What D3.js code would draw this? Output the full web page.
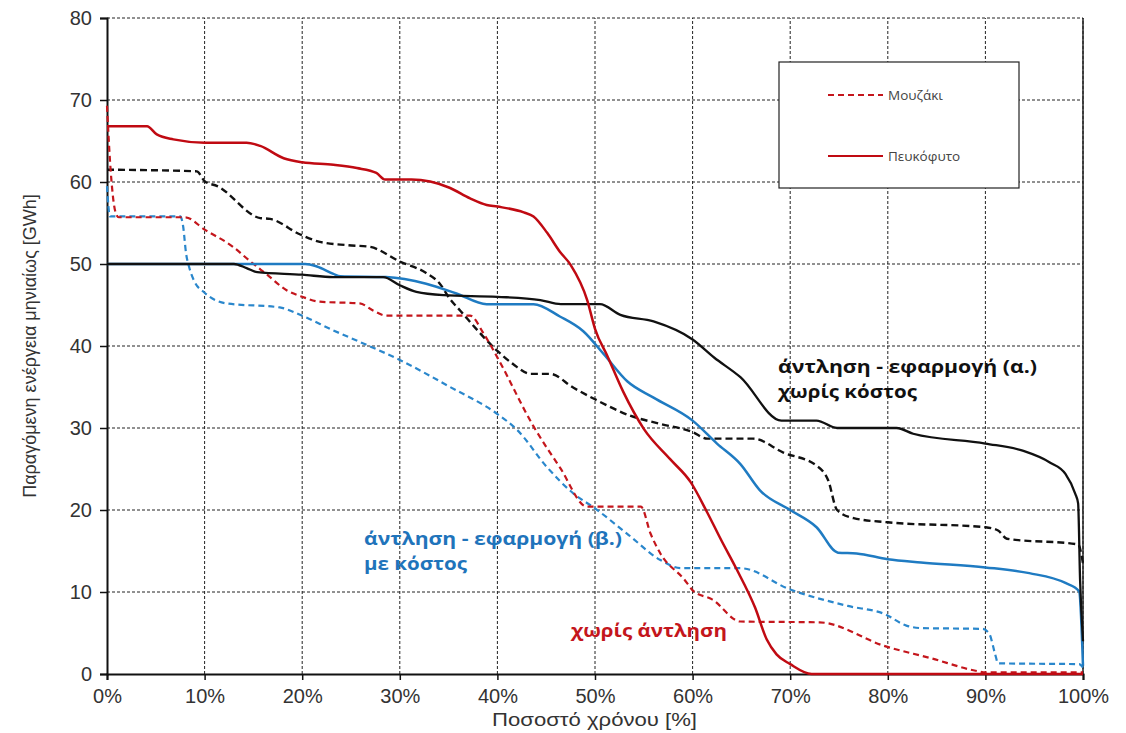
<!DOCTYPE html>
<html>
<head>
  <meta charset="utf-8">
  <title>Καμπύλες διάρκειας ενέργειας</title>
  <style>
    body { margin: 0; background: #fff; }
    text { font-family: "Liberation Sans", Arial, sans-serif; }
    .grid line { stroke: #222; stroke-width: 1; stroke-dasharray: 3,2; }
    .tick-label { font-size: 20px; fill: #333; }
    .axis-title { font-size: 18px; fill: #333; }
    .legend text { font-family: "Open Sans", sans-serif; font-size: 13.5px; fill: #444; }
    .note { font-family: "Open Sans", sans-serif; font-size: 18px; font-weight: bold; }
  </style>
</head>
<body>
  <script src="https://d3js.org/d3.v7.min.js"></script>
  <svg width="1126" height="733"></svg>
  <script>
    // tick labels
    var yTicks = [0, 10, 20, 30, 40, 50, 60, 70, 80];
    var xTicks = [0, 10, 20, 30, 40, 50, 60, 70, 80, 90, 100];

    // series: [percent of time, GWh]
    // no pumping, Pefkofyto (red solid)
    var redSolid = [[0,66.8],[4.1,66.8],[5.1,65.8],[6.8,65.2],[10,64.8],[14.3,64.8],[15.7,64.4],[18.1,62.9],[20,62.4],
      [23.2,62.1],[25.6,61.7],[27.6,61.1],[28.5,60.3],[31.2,60.3],[35.1,59.3],[37.2,58],[38.9,57.2],[40,57],[42.7,56.3],
      [43.7,55.8],[45.1,53.8],[46.4,51.5],[47.5,49.9],[49.2,45.6],[50,42.1],[51.3,38.7],[52.9,34.4],[55,29.9],[57.7,26.2],
      [59.8,23.4],[61.5,19.7],[62.9,16.4],[64.5,12.8],[66.4,8.1],[67.6,4.2],[68.6,2.4],[70,1.2],[72.2,0],[100,0]];
    // no pumping, Mouzaki (red dashed)
    var redDashed = [[0,69.3],[0.3,62.7],[0.9,56.2],[1.2,55.7],[7.5,55.7],[8,55.7],[10,54.2],[12.9,52.1],[14.7,50.3],
      [16.4,48.7],[18.4,46.8],[20,46],[21.8,45.4],[25.9,45.2],[27.3,44.3],[28.6,43.7],[37.2,43.7],[38.6,41.5],[40,38.6],
      [43.7,30.2],[46.4,25.2],[49.2,20.4],[54.7,20.4],[55.7,17.1],[56.7,14.7],[59.1,11.6],[60.1,10.1],[62,9.1],[64.9,6.4],
      [73,6.3],[79.7,3.4],[84.5,1.9],[89,0.4],[90,0.2],[100,0.2]];
    // pumping (a) without cost, Pefkofyto (black solid)
    var blackSolid = [[0,50],[13,50],[14.3,49.5],[15.4,49],[20,48.7],[23.2,48.4],[28.3,48.4],[30,47.4],[31.7,46.6],
      [34.5,46.2],[40,46],[44.4,45.6],[46.5,45.1],[50.5,45.1],[52.6,43.8],[56,43],[60,40.8],[62.2,38.6],[64.9,36.2],
      [69.1,30.9],[72.7,30.9],[74.8,30],[80.9,30],[82.6,29.3],[90,28.1],[93.9,27.2],[96.6,25.8],[98.2,24.4],[99.2,22],
      [99.5,20.8],[99.7,11.5],[100,4]];
    // pumping (a) without cost, Mouzaki (black dashed)
    var blackDashed = [[0,61.5],[9.2,61.3],[10,60.1],[11.3,59.5],[15.7,55.6],[16.7,55.5],[19.8,53.6],[21.8,52.7],
      [24.6,52.3],[26.9,52.1],[30,50.3],[32.7,48.9],[34.1,47.6],[35.1,45.8],[36.2,44.3],[40,39.4],[41.6,37.8],[43.4,36.6],
      [45.4,36.6],[47.8,34.9],[50,33.5],[53.6,31.5],[56.7,30.5],[60,29.5],[61.5,28.7],[66.2,28.7],[69.3,27],[72.7,25.4],
      [73.9,23.6],[74.8,20],[76.5,19],[80,18.5],[90,17.9],[91.3,17.5],[92.2,16.5],[99.5,15.8],[100,13.5]];
    // pumping (b) with cost, Pefkofyto (blue solid)
    var blueSolid = [[0,50],[20.3,50],[21.5,49.7],[23.2,48.8],[23.9,48.5],[28.6,48.4],[32.7,47.6],[35.8,46.4],[38.9,45.1],
      [43.7,45.1],[46.4,43.6],[48.8,41.8],[50.9,39],[53.3,35.7],[56,33.7],[60,30.9],[62.5,28.1],[64.9,25.6],[66.9,22.4],
      [70,20],[72.7,17.9],[74.9,14.8],[76.8,14.7],[80,14],[83.4,13.6],[90,13],[94.5,12.3],[98.2,11.1],[99.6,10.1],[100,1]];
    // pumping (b) with cost, Mouzaki (blue dashed)
    var blueDashed = [[0,59.5],[0.3,55.8],[7.5,55.8],[7.8,54.6],[8.1,51.3],[8.4,49.7],[8.9,48],[10,46.5],[12.2,45.2],
      [17.7,44.7],[20,43.7],[23.2,41.9],[25.9,40.5],[30,38.3],[35,35.1],[40,31.7],[42,29.8],[45.1,25.2],[47.8,22],
      [50,20.2],[53.3,17.1],[56.7,13.9],[58.8,12.9],[64.9,12.9],[70,10.3],[75.9,8.3],[79.7,7.3],[81.9,5.9],[83.4,5.6],
      [89.7,5.5],[90.4,4.9],[91,2.4],[91.3,1.3],[99.6,1.2],[100,0.8]];

    var svg = d3.select("svg");
    var margin = {top: 18, left: 107};
    var width = 976, height = 656;

    var x = d3.scaleLinear().domain([0, 100]).range([margin.left, margin.left + width]);
    var y = d3.scaleLinear().domain([0, 80]).range([margin.top + height, margin.top]);

    // grid
    var grid = svg.append("g").attr("class", "grid");
    grid.selectAll(".gx").data(xTicks.slice(1)).enter().append("line")
        .attr("x1", function(d) { return x(d); }).attr("x2", function(d) { return x(d); })
        .attr("y1", y(0)).attr("y2", y(80));
    grid.selectAll(".gy").data(yTicks.slice(1)).enter().append("line")
        .attr("x1", x(0)).attr("x2", x(100))
        .attr("y1", function(d) { return y(d); }).attr("y2", function(d) { return y(d); });

    // axes
    var yAxis = svg.append("g")
        .attr("transform", "translate(" + x(0) + ",0)")
        .call(d3.axisLeft(y).tickValues(yTicks).tickSize(7).tickPadding(8));
    var xAxis = svg.append("g")
        .attr("transform", "translate(0," + y(0) + ")")
        .call(d3.axisBottom(x).tickValues(xTicks).tickSize(6).tickPadding(5)
          .tickFormat(function(d) { return d + "%"; }));
    [xAxis, yAxis].forEach(function(a) {
      a.select(".domain").attr("stroke", "#111").attr("stroke-width", 2);
      a.selectAll(".tick line").attr("stroke", "#111").attr("stroke-width", 1.5);
      a.selectAll(".tick text").attr("class", "tick-label").attr("font-family", null).attr("font-size", null);
    });
    xAxis.selectAll(".tick text").attr("dy", "0.9em");

    svg.append("line")
        .attr("x1", x(100)).attr("x2", x(100)).attr("y1", y(0)).attr("y2", y(80))
        .attr("stroke", "#222").attr("stroke-width", 1.5);

    // titles
    svg.append("text").attr("class", "axis-title")
        .attr("x", 492).attr("y", 726)
        .attr("textLength", 205).attr("lengthAdjust", "spacingAndGlyphs")
        .text("Ποσοστό χρόνου [%]");
    svg.append("text").attr("class", "axis-title")
        .attr("transform", "translate(36," + y(40) + ") rotate(-90)")
        .attr("text-anchor", "middle")
        .text("Παραγόμενη ενέργεια μηνιαίως [GWh]");

    // lines
    var line = d3.line()
        .x(function(d) { return x(d[0]); })
        .y(function(d) { return y(d[1]); })
        .curve(d3.curveMonotoneX);

    var series = [
      {data: blueDashed, color: "#2a87cc", dash: "6,4", w: 2.2},
      {data: blackDashed, color: "#111", dash: "7,4", w: 2.4},
      {data: redDashed, color: "#c4161c", dash: "6,4", w: 2.2},
      {data: blueSolid, color: "#1f7bc2", dash: null, w: 2.5},
      {data: blackSolid, color: "#111", dash: null, w: 2.3},
      {data: redSolid, color: "#c00a12", dash: null, w: 2.5}
    ];
    svg.append("g").selectAll("path").data(series).enter().append("path")
        .attr("d", function(d) { return line(d.data); })
        .attr("fill", "none")
        .attr("stroke", function(d) { return d.color; })
        .attr("stroke-width", function(d) { return d.w; })
        .attr("stroke-dasharray", function(d) { return d.dash; });

    // legend
    var legend = svg.append("g").attr("class", "legend");
    legend.append("rect").attr("x", 779).attr("y", 62).attr("width", 240).attr("height", 126)
        .attr("fill", "#fff").attr("stroke", "#222").attr("stroke-width", 1.2);
    legend.append("line").attr("x1", 828).attr("x2", 883).attr("y1", 95).attr("y2", 95)
        .attr("stroke", "#c4161c").attr("stroke-width", 2).attr("stroke-dasharray", "6,4");
    legend.append("text").attr("x", 888).attr("y", 100).text("Μουζάκι");
    legend.append("line").attr("x1", 828).attr("x2", 883).attr("y1", 156).attr("y2", 156)
        .attr("stroke", "#c00a12").attr("stroke-width", 2.2);
    legend.append("text").attr("x", 888).attr("y", 161).text("Πευκόφυτο");

    // annotations
    var notes = [
      {x: 778, y: 373, w: 259, t: "άντληση - εφαρμογή (α.)", c: "#111"},
      {x: 778, y: 398, w: 139, t: "χωρίς κόστος", c: "#111"},
      {x: 364, y: 545, w: 258, t: "άντληση - εφαρμογή (β.)", c: "#1f74bb"},
      {x: 364, y: 570, w: 103, t: "με κόστος", c: "#1f74bb"},
      {x: 571, y: 637, w: 156, t: "χωρίς άντληση", c: "#c4161c"}
    ];
    svg.append("g").selectAll("text").data(notes).enter().append("text")
        .attr("class", "note")
        .attr("x", function(d) { return d.x; })
        .attr("y", function(d) { return d.y; })
        .attr("textLength", function(d) { return d.w; })
        .attr("lengthAdjust", "spacingAndGlyphs")
        .attr("fill", function(d) { return d.c; })
        .text(function(d) { return d.t; });
  </script>
</body>
</html>
